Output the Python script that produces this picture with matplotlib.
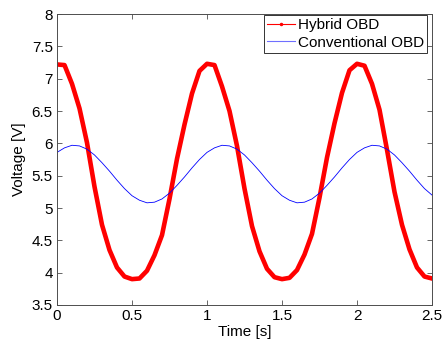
import numpy as np
import matplotlib
matplotlib.use("Agg")
import matplotlib.pyplot as plt
from matplotlib.lines import Line2D
from matplotlib.ticker import FormatStrFormatter

plt.rcParams['font.family'] = ['Liberation Sans', 'DejaVu Sans']

# time axis, sampled every 0.05 s
time = np.arange(51) * 0.05

# Hybrid OBD output voltage
hybrid = [7.22, 7.21, 6.92, 6.54, 6.01, 5.33, 4.74, 4.35, 4.08, 3.94,
          3.90, 3.91, 4.03, 4.27, 4.58, 5.14, 5.76, 6.29, 6.77, 7.12,
          7.23, 7.21, 6.88, 6.50, 5.96, 5.30, 4.72, 4.33, 4.06, 3.93,
          3.90, 3.92, 4.04, 4.28, 4.60, 5.16, 5.78, 6.31, 6.78, 7.13,
          7.23, 7.20, 6.92, 6.52, 5.90, 5.25, 4.74, 4.36, 4.08, 3.94,
          3.91]

# Conventional OBD output voltage
conventional = [5.86, 5.93, 5.97, 5.96, 5.91, 5.82, 5.70, 5.57, 5.43, 5.30,
                5.19, 5.12, 5.08, 5.09, 5.14, 5.23, 5.35, 5.48, 5.62, 5.75,
                5.86, 5.93, 5.97, 5.96, 5.91, 5.82, 5.70, 5.57, 5.43, 5.30,
                5.19, 5.12, 5.08, 5.09, 5.14, 5.23, 5.35, 5.48, 5.62, 5.75,
                5.86, 5.93, 5.97, 5.96, 5.91, 5.82, 5.70, 5.57, 5.43, 5.30,
                5.20]

xticks = [0, 0.5, 1, 1.5, 2, 2.5]
yticks = [3.5, 4, 4.5, 5, 5.5, 6, 6.5, 7, 7.5, 8]

fig = plt.figure(figsize=(4.44, 3.43), dpi=100)
ax = fig.add_axes([57 / 444, 1 - 305 / 343, 375 / 444, 291 / 343])

ax.plot(time, hybrid, color='red', lw=3.3, solid_joinstyle='round')
ax.plot(time, conventional, color='blue', lw=0.6)

ax.set_xlim(0, 2.5)
ax.set_ylim(3.5, 8)
ax.set_xticks(xticks)
ax.set_yticks(yticks)
ax.xaxis.set_major_formatter(FormatStrFormatter('%g'))
ax.yaxis.set_major_formatter(FormatStrFormatter('%g'))
ax.tick_params(direction='in', top=True, right=True, length=3.5, width=0.6,
               labelsize=11, color='0.3', pad=3)
for s in ax.spines.values():
    s.set_color('0.3')
    s.set_linewidth(0.7)

ax.set_xlabel('Time [s]', fontsize=11, labelpad=1)
ax.set_ylabel('Voltage [V]', fontsize=11, labelpad=4)

handles = [Line2D([], [], color='red', lw=0.8, marker='.', markersize=3),
           Line2D([], [], color='#6f6fff', lw=0.8)]
leg = ax.legend(handles, ['Hybrid OBD', 'Conventional OBD'],
                loc='upper right', bbox_to_anchor=(0.987, 0.997),
                borderaxespad=0, fontsize=11, fancybox=False, framealpha=1,
                edgecolor='0.2', handlelength=1.8, handletextpad=0.2,
                labelspacing=0.25, borderpad=0.2)
leg.get_frame().set_linewidth(0.7)

fig.savefig('out.png', dpi=100)
